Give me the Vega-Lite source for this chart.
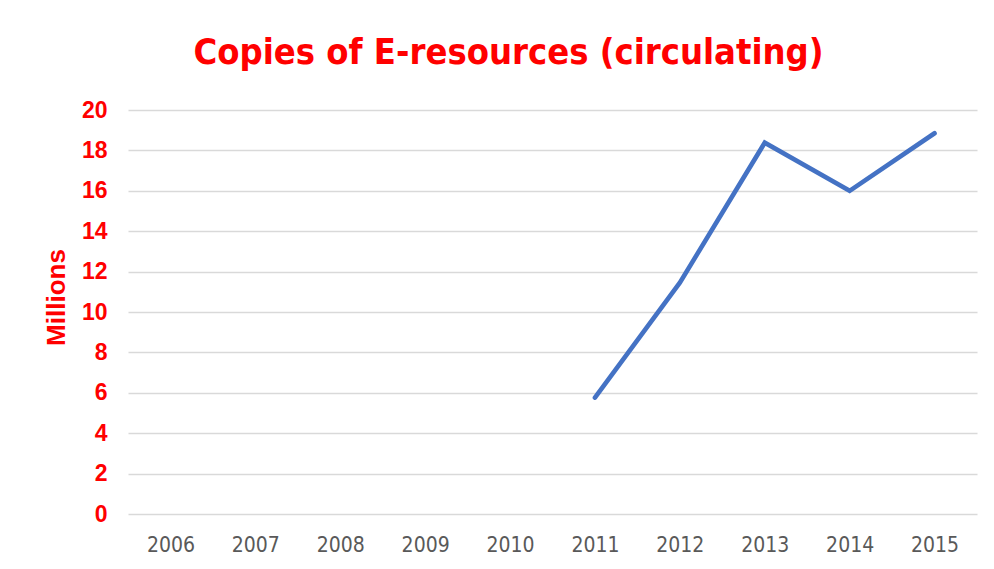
{
  "$schema": "https://vega.github.io/schema/vega-lite/v6.json",
  "autosize": {"type": "none"},
  "width": 849,
  "height": 404,
  "padding": {"left": 128, "top": 110, "right": 17, "bottom": 55},
  "background": "white",
  "title": {
    "text": "Copies of E-resources (circulating)",
    "font": "DejaVu Sans Condensed, Liberation Sans",
    "fontSize": 36,
    "fontWeight": "bold",
    "color": "#ff0000",
    "anchor": "middle",
    "dx": -44,
    "offset": 27
  },
  "data": {
    "values": [
      {"year": "2006", "copies": null},
      {"year": "2007", "copies": null},
      {"year": "2008", "copies": null},
      {"year": "2009", "copies": null},
      {"year": "2010", "copies": null},
      {"year": "2011", "copies": 5.76},
      {"year": "2012", "copies": 11.45},
      {"year": "2013", "copies": 18.38},
      {"year": "2014", "copies": 16.0},
      {"year": "2015", "copies": 18.85}
    ]
  },
  "mark": {"type": "line", "color": "#4472c4", "strokeWidth": 4.6, "strokeCap": "round", "strokeJoin": "miter"},
  "encoding": {
    "x": {
      "field": "year",
      "type": "ordinal",
      "scale": {"domain": ["2006","2007","2008","2009","2010","2011","2012","2013","2014","2015"], "padding": 0.5},
      "axis": {
        "title": null,
        "labelAngle": 0,
        "labelFont": "DejaVu Sans Condensed, Liberation Sans",
        "labelFontSize": 21,
        "labelColor": "#595959",
        "labelPadding": 20,
        "ticks": false,
        "domain": false,
        "grid": false
      }
    },
    "y": {
      "field": "copies",
      "type": "quantitative",
      "scale": {"domain": [0, 20], "nice": false},
      "axis": {
        "title": "Millions",
        "titleFont": "Liberation Sans",
        "titleFontSize": 26,
        "titleFontWeight": "bold",
        "titleColor": "#ff0000",
        "titlePadding": 12,
        "titleY": 187,
        "values": [0,2,4,6,8,10,12,14,16,18,20],
        "labelFont": "Liberation Sans",
        "labelFontSize": 23,
        "labelFontWeight": "bold",
        "labelColor": "#ff0000",
        "labelPadding": 21,
        "ticks": false,
        "domain": false,
        "grid": true,
        "gridColor": "#d9d9d9",
        "gridWidth": 1.5
      }
    }
  },
  "config": {"view": {"stroke": null}}
}
